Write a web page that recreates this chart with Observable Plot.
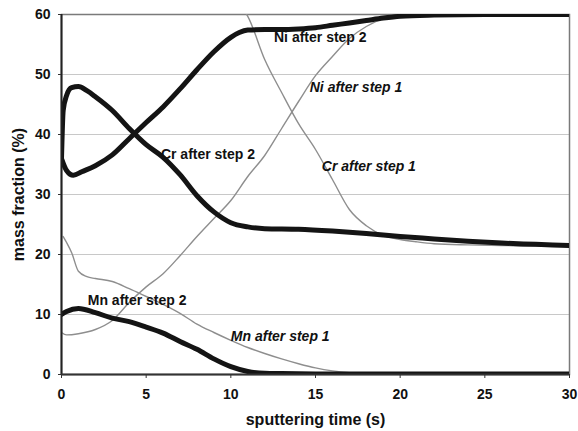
<!DOCTYPE html>
<html>
<head>
<meta charset="utf-8">
<script src="https://cdn.jsdelivr.net/npm/d3@7"></script>
<script src="https://cdn.jsdelivr.net/npm/@observablehq/plot@0.6"></script>
<style>
  html, body { margin: 0; padding: 0; background: #fff; overflow: hidden; }
  #chart svg { display: block; }
</style>
</head>
<body>
<div id="chart"></div>
<script>
// ---- data ----
const xTicks = [0, 5, 10, 15, 20, 25, 30];
const yTicks = [0, 10, 20, 30, 40, 50, 60];

const tNi2 = [0, 0.3, 0.7, 1.2, 2, 3, 4, 5, 6, 7, 8, 9, 10, 10.5, 11, 12, 13, 14, 15, 16, 17, 18, 19, 20, 22, 25, 30];
const vNi2 = [36, 34, 33.2, 33.8, 34.8, 36.6, 39.3, 42, 44.6, 47.6, 50.8, 53.8, 56.2, 57, 57.4, 57.5, 57.5, 57.6, 57.8, 58.2, 58.6, 59, 59.4, 59.7, 59.9, 60, 60];

const tCr2 = [0, 0.1, 0.3, 0.6, 1, 1.5, 2, 3, 4, 5, 6, 7, 8, 9, 10, 11, 12, 14, 16, 18, 20, 22, 24, 26, 28, 30];
const vCr2 = [36, 44, 46.5, 47.8, 48, 47.3, 46.3, 44, 41, 38.3, 36.2, 33.3, 29.8, 27.1, 25.3, 24.6, 24.3, 24.2, 23.9, 23.5, 23, 22.6, 22.2, 21.9, 21.7, 21.5];

const tMn2 = [0, 0.3, 1, 2, 3, 4, 5, 6, 7, 8, 9, 10, 11, 12, 13, 15, 20, 25, 30];
const vMn2 = [10, 10.5, 11, 10.3, 9.4, 8.8, 7.9, 6.9, 5.5, 4.2, 2.6, 1.3, 0.5, 0.2, 0.15, 0.1, 0.1, 0.1, 0.1];

const tNi1 = [0, 0.3, 1, 2, 3, 4, 5, 6, 7, 8, 9, 10, 11, 12, 13, 14, 15, 16, 17, 18, 19, 20, 22, 25, 30];
const vNi1 = [7, 6.6, 6.8, 7.5, 9, 12, 14.6, 16.8, 19.8, 23, 26, 29, 33, 36.5, 41, 45.5, 49.8, 53, 56, 58, 59.3, 59.8, 60, 60, 60];

const tCr1 = [10.7, 11, 12, 13, 14, 15, 16, 17, 18, 19, 20, 21, 22, 24, 26, 28, 30];
const vCr1 = [61, 59.7, 52.5, 47, 41.8, 37.5, 32.5, 27.5, 24.8, 23.2, 22.5, 22.1, 21.8, 21.6, 21.5, 21.4, 21.4];

const tMn1 = [0.1, 0.3, 0.6, 1, 1.5, 2, 3, 4, 5, 6, 7, 8, 9, 10, 11, 12, 13, 14, 15, 16, 17, 18, 20, 25, 30];
const vMn1 = [23, 22, 20.3, 17.2, 16.3, 16, 15.5, 14.3, 13, 11.7, 10.2, 8.4, 7, 5.7, 4.5, 3.5, 2.6, 1.8, 1.1, 0.6, 0.3, 0.2, 0.15, 0.1, 0.1];

const labels2 = ["Ni after step 2", "Cr after step 2", "Mn after step 2"];
const labels2X = [12.55, 5.87, 1.55];
const labels2Y = [56.2, 36.6, 12.3];

const labels1 = ["Ni after step 1", "Cr after step 1", "Mn after step 1"];
const labels1X = [14.66, 15.37, 10.0];
const labels1Y = [47.8, 34.6, 6.4];

// ---- build tables ----
const series = (t, v) => t.map((x, i) => ({t: x, v: v[i]}));
const ni2 = series(tNi2, vNi2), cr2 = series(tCr2, vCr2), mn2 = series(tMn2, vMn2);
const ni1 = series(tNi1, vNi1), cr1 = series(tCr1, vCr1), mn1 = series(tMn1, vMn1);
const lab2 = labels2.map((s, i) => ({s, x: labels2X[i], y: labels2Y[i]}));
const lab1 = labels1.map((s, i) => ({s, x: labels1X[i], y: labels1Y[i]}));

const DARK = "#141414", GRAY = "#8e8e8e";
const thick = {x: "t", y: "v", stroke: DARK, strokeWidth: 5, strokeLinejoin: "round", curve: "monotone-x", clip: true};
const thin = {x: "t", y: "v", stroke: GRAY, strokeWidth: 1.4, strokeLinejoin: "round", curve: "monotone-x", clip: true};

const chart = Plot.plot({
  width: 578,
  height: 431,
  marginLeft: 61,
  marginRight: 9,
  marginTop: 14,
  marginBottom: 57,
  style: {fontFamily: "'Liberation Sans', Arial, sans-serif", fontWeight: "bold", fontSize: "14px", color: "#111", background: "#fff"},
  x: {domain: [0, 30]},
  y: {domain: [0, 60]},
  marks: [
    Plot.gridY([10, 20, 30, 40, 50], {stroke: "#c8c8c8", strokeOpacity: 1, strokeWidth: 1}),
    Plot.frame({stroke: "#7a7a7a", strokeWidth: 1.5}),
    Plot.line(mn1, thin),
    Plot.line(cr1, thin),
    Plot.line(ni1, thin),
    Plot.line(mn2, thick),
    Plot.line(cr2, thick),
    Plot.line(ni2, thick),
    Plot.ruleX([0], {stroke: "#222", strokeWidth: 2}),
    Plot.ruleY([0], {stroke: "#333", strokeWidth: 2}),
    Plot.axisX({ticks: xTicks, tickSize: 4, tickPadding: 11, label: null, fontSize: 14, fontWeight: "bold", stroke: "#333"}),
    Plot.axisY({ticks: yTicks, tickSize: 3, tickPadding: 8, label: null, fontSize: 14, fontWeight: "bold", stroke: "#333"}),
    Plot.text(lab2, {x: "x", y: "y", text: "s", textAnchor: "start", fontSize: 14, fontWeight: "bold", fill: "#111"}),
    Plot.text(lab1, {x: "x", y: "y", text: "s", textAnchor: "start", fontSize: 14, fontWeight: "bold", fontStyle: "italic", fill: "#111"}),
    Plot.text(["sputtering time (s)"], {frameAnchor: "bottom", dy: 45, textAnchor: "middle", lineAnchor: "middle", fontSize: 16, fontWeight: "bold", fill: "#111"}),
    Plot.text(["mass fraction (%)"], {frameAnchor: "left", dx: -43, rotate: -90, textAnchor: "middle", lineAnchor: "middle", fontSize: 16, fontWeight: "bold", fill: "#111"})
  ]
});
document.getElementById("chart").appendChild(chart);
</script>
</body>
</html>
